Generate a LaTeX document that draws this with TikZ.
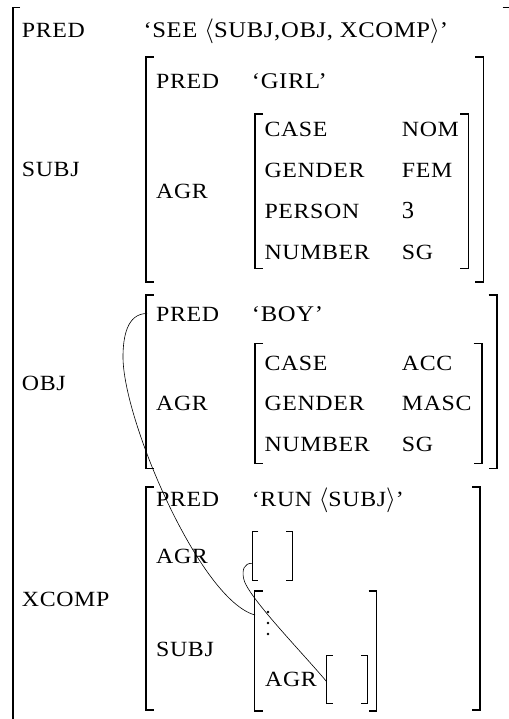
\documentclass[tikz,border=0pt]{standalone}
\usepackage{fontspec}
\setmainfont{Liberation Serif}[FakeStretch=1.1,LetterSpace=3]
\newfontfamily\numfont{Liberation Serif}

\tikzset{
  attr/.style={anchor=base west,inner sep=0pt,font=\fontsize{21.7}{26}\selectfont},
  val/.style={attr,font=\fontsize{22.4}{26}\selectfont},
  brk/.style={line width=1.6pt},
  thinbrk/.style={line width=0.9pt},
  link/.style={line width=0.6pt}
}
% \avm[style]{serif}{left}{right}{top}{bottom}
\newcommand{\avm}[6][brk]{%
  \draw[#1] ({#3+#2},-#5) -- (#3,-#5) -- (#3,-#6) -- ({#3+#2},-#6);
  \draw[#1] ({#4-#2},-#5) -- (#4,-#5) -- (#4,-#6) -- ({#4-#2},-#6);
}
\newcommand{\openang}{{\fontsize{25}{30}\selectfont$\langle$}}
\newcommand{\closeang}{{\fontsize{25}{30}\selectfont$\rangle$}}

\begin{document}
\begin{tikzpicture}[x=1pt,y=1pt]
        \useasboundingbox (0,0) rectangle (508,-719);
        % brackets
        \avm{7.5}{12.7}{510}{7.5}{730}
        \avm{8}{145.7}{483.3}{57.3}{281.7}
        \avm{8}{255}{468.3}{114}{268.3}
        \avm{8}{145.7}{496.7}{295}{468.3}
        \avm{8}{255}{481.7}{343.3}{463.3}
        \avm{8}{145.7}{480}{486.7}{710}
        \avm[thinbrk]{6}{252.3}{292}{531.7}{580}
        \avm{8}{254.5}{376.5}{590.7}{711}
        \avm[thinbrk]{6}{326.7}{367}{655}{703.5}
        % outer level
        \node[attr] (pred) at (21.7,-37.7) {PRED};
        \node[val] (see) at (143.3,-37.7) {‘SEE \openang SUBJ,OBJ, XCOMP\closeang’};
        \node[attr] (subj) at (21.7,-176.7) {SUBJ};
        \node[attr] (obj) at (21.7,-390) {OBJ};
        \node[attr] (xcomp) at (21.7,-606) {XCOMP};
        % subj
        \node[attr] (spred) at (156,-88.3) {PRED};
        \node[val] (sgirl) at (251.7,-88.3) {‘GIRL’};
        \node[attr] (sagr) at (156,-199) {AGR};
        \foreach \f/\v/\y [count=\i] in {%
          CASE/NOM/136.7,
          GENDER/FEM/177.7,
          PERSON/{\numfont\fontsize{24.5}{28}\selectfont 3}/218.3,
          NUMBER/SG/259.3} {
            \node[attr] (sf\i) at (264.3,-\y) {\f};
            \node[attr] (sv\i) at (401.7,-\y) {\v};
        }
        % obj
        \node[attr] (opred) at (156,-321.7) {PRED};
        \node[val] (oboy) at (251.7,-321.7) {‘BOY’};
        \node[attr] (oagr) at (156,-410) {AGR};
        \foreach \f/\v/\y [count=\i] in {%
          CASE/ACC/370,
          GENDER/MASC/410,
          NUMBER/SG/451.7} {
            \node[attr] (of\i) at (264.3,-\y) {\f};
            \node[attr] (ov\i) at (401.7,-\y) {\v};
        }
        % xcomp
        \node[attr] (xpred) at (156,-506.7) {PRED};
        \node[attr] (xrun) at (251.7,-506.7) {‘RUN \openang SUBJ\closeang’};
        \node[attr] (xagr) at (156,-563.3) {AGR};
        \node[attr] (xsubj) at (156,-656.7) {SUBJ};
        \node[attr] (xsagr) at (265,-686.7) {AGR};
        \foreach \y in {612,623,634} {
          \fill (268,-\y) circle (1.3);
        }
        % control links
        \coordinate (objlink) at (147,-313.5);
        \coordinate (xsubjlink) at (255,-615);
        \coordinate (xagrlink) at (252.3,-563.3);
        \coordinate (xsagrlink) at (326.7,-681.7);
        \draw[link] (objlink) .. controls (127,-313.5) and (123,-337) .. (123,-357)
          .. controls (123,-420) and (200,-600) .. (xsubjlink);
        \draw[link] (xagrlink) .. controls (244,-563) and (242,-570) .. (243.5,-578)
          .. controls (246,-595) and (300,-650) .. (xsagrlink);
\end{tikzpicture}
\end{document}
